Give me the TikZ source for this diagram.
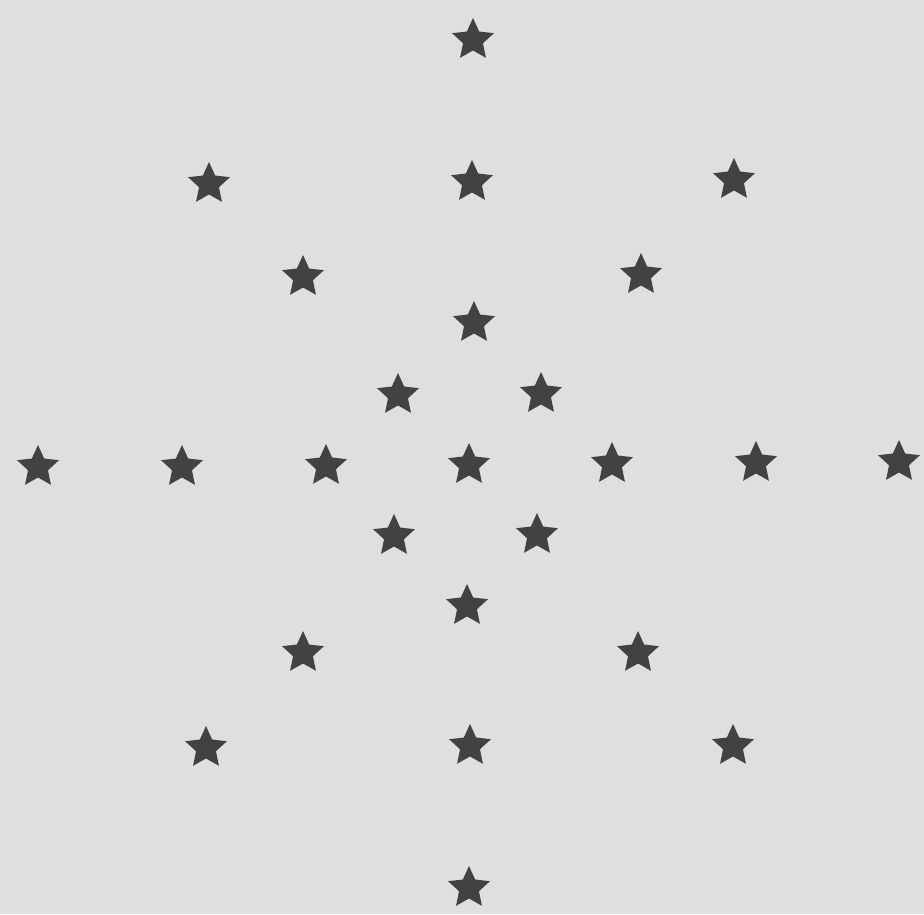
\documentclass[tikz,border=0pt]{standalone}
\usetikzlibrary{shapes.geometric}
\definecolor{paper}{HTML}{DFDFDF}
\definecolor{ink}{HTML}{424242}
\tikzset{starmark/.style={star, star points=5, star point ratio=2.1, fill=ink, draw=none, inner sep=0pt, minimum size=44pt}}
\begin{document}
\begin{tikzpicture}[x=1pt,y=-1pt]
\fill[paper] (0,0) rectangle (924,914);
\useasboundingbox (0,0) rectangle (924,914);
\foreach \x/\y [count=\i] in {473/40, 209/184, 472/182, 734/180, 303/277, 641/275, 474/323, 398/395, 541/394, 38/467, 182/467, 326/466, 469/465, 612/464, 756/463, 899/462, 394/536, 537/535, 467/606, 303/653, 638/653, 206/748, 470/746, 733/746, 469/888}
  \node[starmark] (s\i) at (\x,\y) {};
\end{tikzpicture}
\end{document}
